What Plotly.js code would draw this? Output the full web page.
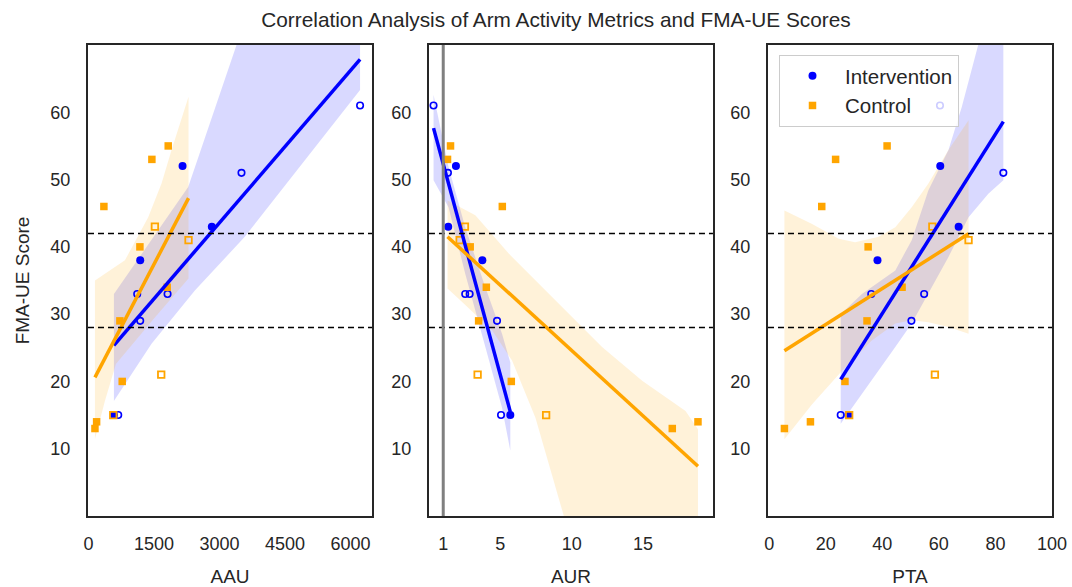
<!DOCTYPE html>
<html><head><meta charset="utf-8">
<script src="https://cdn.plot.ly/plotly-3.0.1.min.js"></script>
<style>html,body{margin:0;padding:0;background:#fff}#chart{width:1072px;height:587px}</style>
</head><body><div id="chart"></div>
<script>
// ---------- data ----------
const metricNames = ['AAU', 'AUR', 'PTA'];

// Intervention, filled markers
const intFilledFMA = [52, 43, 38, 15];
const intFilledAAU = [2154, 2824, 1185, 583];
const intFilledAUR = [1.89, 1.35, 3.74, 5.70];
const intFilledPTA = [60.5, 67.0, 38.3, 28.1];
// Intervention, open markers
const intOpenFMA = [61, 51, 33, 33, 29, 15];
const intOpenAAU = [6217, 3503, 1811, 1116, 1185, 682];
const intOpenAUR = [0.32, 1.33, 2.54, 2.85, 4.77, 5.05];
const intOpenPTA = [60.4, 82.8, 36.1, 54.8, 50.3, 25.3];
// Control, filled markers
const ctlFilledFMA = [55, 53, 46, 40, 34, 29, 20, 14, 13];
const ctlFilledAAU = [1826, 1452, 354, 1178, 1803, 720, 773, 187, 149];
const ctlFilledAUR = [1.51, 1.30, 5.14, 2.89, 4.02, 3.48, 5.77, 18.85, 17.05];
const ctlFilledPTA = [41.7, 23.5, 18.6, 35.0, 47.0, 34.6, 26.8, 14.6, 5.4];
// Control, open markers
const ctlOpenFMA = [43, 41, 21, 15];
const ctlOpenAAU = [1521, 2291, 1666, 568];
const ctlOpenAUR = [2.52, 2.15, 3.41, 8.21];
const ctlOpenPTA = [57.7, 70.5, 58.6, 28.3];

// Confidence bands (upper / lower edges)
const intBandAAUupX = [583, 2283, 3389, 6217];
const intBandAAUupY = [33.0, 48.9, 70, 125];
const intBandAAUloX = [583, 1445, 2436, 3579, 6217];
const intBandAAUloY = [17.1, 25.6, 33.5, 41.5, 63.3];
const ctlBandAAUupX = [149, 377, 835, 1368, 1673, 1902, 2291];
const ctlBandAAUupY = [35.0, 36.0, 38.0, 44.4, 49.4, 54.4, 62.3];
const ctlBandAAUloX = [149, 377, 629, 1521, 2291];
const ctlBandAAUloY = [11.4, 17.1, 22.6, 29.5, 35.3];

const intBandAURupX = [0.32, 1.37, 2.54, 3.95, 5.12, 5.70];
const intBandAURupY = [62.6, 51.9, 42.9, 34.0, 27.1, 22.8];
const intBandAURloX = [0.32, 1.37, 2.54, 3.95, 5.12, 5.70];
const intBandAURloY = [49.9, 45.9, 36.0, 25.1, 16.1, 9.7];
const ctlBandAURupX = [1.30, 3.25, 5.59, 9.09, 12.13, 14.94, 17.98, 18.85];
const ctlBandAURupY = [46.9, 44.7, 39.0, 31.5, 25.1, 20.1, 15.6, 12.9];
const ctlBandAURloX = [1.30, 2.08, 4.42, 5.82, 7.46, 9.45, 18.85];
const ctlBandAURloY = [33.8, 32.3, 27.6, 23.1, 14.6, 0.0, -40];

const intBandPTAupX = [25.3, 32.8, 44.6, 50.4, 56.3, 63.4, 68.1, 73.9, 82.8];
const intBandPTAupY = [30.0, 33.0, 36.5, 41.0, 48.4, 54.4, 60.8, 70, 95];
const intBandPTAloX = [25.3, 32.8, 44.6, 50.4, 56.3, 63.4, 70.5, 77.5, 82.8];
const intBandPTAloY = [13.7, 18.1, 25.1, 28.6, 33.0, 38.5, 44.4, 47.9, 49.9];
const ctlBandPTAupX = [5.4, 15.2, 24.6, 30.4, 38.7, 44.6, 50.4, 56.3, 63.4, 70.5];
const ctlBandPTAupY = [45.4, 43.4, 41.2, 40.7, 41.5, 42.9, 45.9, 49.4, 54.4, 58.8];
const ctlBandPTAloX = [5.4, 15.2, 26.9, 36.3, 44.6, 50.4, 56.3, 63.4, 70.5];
const ctlBandPTAloY = [11.4, 16.6, 22.1, 26.1, 28.6, 29.1, 28.8, 28.1, 27.1];

// Reference lines and ticks
const fmaThresholds = [42, 28];
const aurReference = [1];
const yTicks = [10, 20, 30, 40, 50, 60];
const xTicksAAU = [0, 1500, 3000, 4500, 6000];
const xTicksAUR = [1, 5, 10, 15];
const xTicksPTA = [0, 20, 40, 60, 80, 100];

// ---------- build ----------
const BLUE = '#0000ff', ORANGE = '#ffa500';
const BLUE_BAND = 'rgba(0,0,255,0.15)', ORANGE_BAND = 'rgba(255,165,0,0.15)';
const FONT = 'Liberation Sans, Arial, sans-serif';
const TXT = '#262626';

const panels = [
  {name: 'AAU', sfx: '', intF: intFilledAAU, intO: intOpenAAU, ctlF: ctlFilledAAU, ctlO: ctlOpenAAU,
   ib: [intBandAAUupX, intBandAAUupY, intBandAAUloX, intBandAAUloY],
   cb: [ctlBandAAUupX, ctlBandAAUupY, ctlBandAAUloX, ctlBandAAUloY]},
  {name: 'AUR', sfx: '2', intF: intFilledAUR, intO: intOpenAUR, ctlF: ctlFilledAUR, ctlO: ctlOpenAUR,
   ib: [intBandAURupX, intBandAURupY, intBandAURloX, intBandAURloY],
   cb: [ctlBandAURupX, ctlBandAURupY, ctlBandAURloX, ctlBandAURloY]},
  {name: 'PTA', sfx: '3', intF: intFilledPTA, intO: intOpenPTA, ctlF: ctlFilledPTA, ctlO: ctlOpenPTA,
   ib: [intBandPTAupX, intBandPTAupY, intBandPTAloX, intBandPTAloY],
   cb: [ctlBandPTAupX, ctlBandPTAupY, ctlBandPTAloX, ctlBandPTAloY]}
];

function ols(xs, ys) {
  const n = xs.length;
  const mx = xs.reduce((a, b) => a + b, 0) / n;
  const my = ys.reduce((a, b) => a + b, 0) / n;
  let sxy = 0, sxx = 0;
  for (let i = 0; i < n; i++) { sxy += (xs[i] - mx) * (ys[i] - my); sxx += (xs[i] - mx) ** 2; }
  const b = sxy / sxx, a = my - b * mx;
  const x0 = Math.min(...xs), x1 = Math.max(...xs);
  return {x: [x0, x1], y: [a + b * x0, a + b * x1]};
}

function bandPoly(b) {
  const [ux, uy, lx, ly] = b;
  return {x: ux.concat(lx.slice().reverse()), y: uy.concat(ly.slice().reverse())};
}

const traces = [];
panels.forEach((p, k) => {
  const xa = 'x' + p.sfx, ya = 'y' + p.sfx;
  const ibp = bandPoly(p.ib), cbp = bandPoly(p.cb);
  traces.push({type: 'scatter', mode: 'lines', x: ibp.x, y: ibp.y, fill: 'toself', fillcolor: BLUE_BAND,
    line: {width: 0}, hoverinfo: 'skip', showlegend: false, xaxis: xa, yaxis: ya});
  traces.push({type: 'scatter', mode: 'lines', x: cbp.x, y: cbp.y, fill: 'toself', fillcolor: ORANGE_BAND,
    line: {width: 0}, hoverinfo: 'skip', showlegend: false, xaxis: xa, yaxis: ya});
  // markers
  traces.push({type: 'scatter', mode: 'markers', x: p.intF, y: intFilledFMA, name: 'Intervention',
    showlegend: k === 0, marker: {symbol: 'circle', size: 8, color: BLUE},
    xaxis: xa, yaxis: ya});
  traces.push({type: 'scatter', mode: 'markers', x: p.intO, y: intOpenFMA, name: 'Intervention',
    showlegend: false,
    marker: {symbol: 'circle-open', size: 6.5, color: BLUE, line: {width: 1.6, color: BLUE}},
    xaxis: xa, yaxis: ya});
  traces.push({type: 'scatter', mode: 'markers', x: p.ctlF, y: ctlFilledFMA, name: 'Control',
    showlegend: k === 0, marker: {symbol: 'square', size: 7.5, color: ORANGE},
    xaxis: xa, yaxis: ya});
  traces.push({type: 'scatter', mode: 'markers', x: p.ctlO, y: ctlOpenFMA, name: 'Control',
    showlegend: false,
    marker: {symbol: 'square-open', size: 6.5, color: ORANGE, line: {width: 1.8, color: ORANGE}},
    xaxis: xa, yaxis: ya});
  // regression lines
  const li = ols(p.intF.concat(p.intO), intFilledFMA.concat(intOpenFMA));
  const lc = ols(p.ctlF.concat(p.ctlO), ctlFilledFMA.concat(ctlOpenFMA));
  traces.push({type: 'scatter', mode: 'lines', x: li.x, y: li.y, line: {color: BLUE, width: 3.5},
    hoverinfo: 'skip', showlegend: false, xaxis: xa, yaxis: ya});
  traces.push({type: 'scatter', mode: 'lines', x: lc.x, y: lc.y, line: {color: ORANGE, width: 3.5},
    hoverinfo: 'skip', showlegend: false, xaxis: xa, yaxis: ya});
});

const shapes = [];
['x', 'x2', 'x3'].forEach((xr, k) => {
  const yr = 'y' + (k ? (k + 1) : '');
  fmaThresholds.forEach(v => shapes.push({type: 'line', xref: xr + ' domain', yref: yr,
    x0: 0, x1: 1, y0: v, y1: v, line: {color: '#000', width: 1.5, dash: '6px,4px'}}));
});
aurReference.forEach(v => shapes.push({type: 'line', xref: 'x2', yref: 'y2 domain',
  x0: v, x1: v, y0: 0, y1: 1, line: {color: '#808080', width: 3}}));

function xAxis(domain, range, ticks, title, anchor) {
  return {domain, range, tickvals: ticks, anchor, showgrid: false, zeroline: false,
    showline: true, mirror: true, linecolor: TXT, linewidth: 2, ticks: '',
    ticklabelstandoff: 10, tickfont: {size: 18, color: TXT, family: FONT},
    title: {text: title, font: {size: 19, color: TXT, family: FONT}, standoff: 20}, automargin: false};
}
function yAxis(anchor, title) {
  const ax = {domain: [0, 1], range: [0, 70], tickvals: yTicks, anchor, showgrid: false, zeroline: false,
    showline: true, mirror: true, linecolor: TXT, linewidth: 2, ticks: '',
    ticklabelstandoff: 12, tickfont: {size: 18, color: TXT, family: FONT}, automargin: false};
  if (title) ax.title = {text: title, font: {size: 19, color: TXT, family: FONT}, standoff: 16};
  return ax;
}

const layout = {
  width: 1072, height: 587,
  margin: {l: 88, r: 20, t: 45, b: 71},
  paper_bgcolor: '#fff', plot_bgcolor: '#fff',
  font: {family: FONT, color: TXT},
  title: {text: 'Correlation Analysis of Arm Activity Metrics and FMA-UE Scores',
    xref: 'container', yref: 'container', x: 556 / 1072, y: 1 - 20 / 587,
    xanchor: 'center', yanchor: 'middle', font: {size: 20.8, color: TXT, family: FONT}},
  xaxis: xAxis([0, 0.2946], [-10, 6490], xTicksAAU, metricNames[0], 'y'),
  xaxis2: xAxis([0.3537, 0.6483], [0, 19.9], xTicksAUR, metricNames[1], 'y2'),
  xaxis3: xAxis([0.7054, 1], [-0.4, 100], xTicksPTA, metricNames[2], 'y3'),
  yaxis: yAxis('x', 'FMA-UE Score'),
  yaxis2: yAxis('x2'),
  yaxis3: yAxis('x3'),
  shapes,
  showlegend: true,
  legend: {x: 0.7168, y: 0.9788, xanchor: 'left', yanchor: 'top', bgcolor: 'rgba(255,255,255,0.8)',
    bordercolor: '#cccccc', borderwidth: 1, font: {size: 20.5, color: TXT, family: FONT},
    itemwidth: 55, tracegroupgap: 0}
};

Plotly.newPlot('chart', traces, layout, {displayModeBar: false, staticPlot: true});
</script></body></html>
